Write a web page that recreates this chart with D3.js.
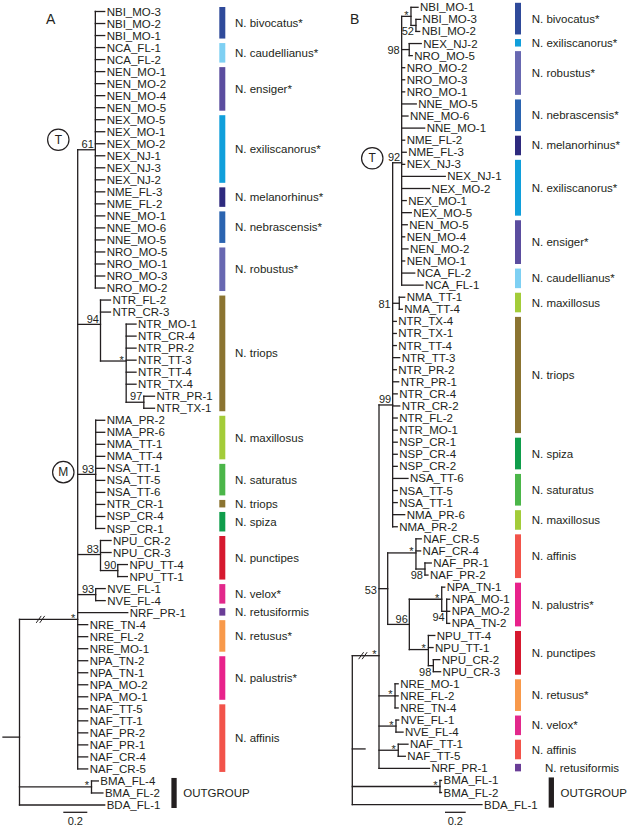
<!DOCTYPE html>
<html><head><meta charset="utf-8">
<script src="https://cdn.jsdelivr.net/npm/d3@7"></script>
<style>
body{margin:0;background:#fff}
svg{display:block}
text{font-family:"Liberation Sans",Arial,Helvetica,sans-serif;fill:#231f20}
</style>
</head><body>
<svg id="chart" width="632" height="829"></svg>
<script>
// ---------------- DATA ----------------
// Panel A (tree, branch lengths in substitutions/site; internal labels = support)
const treeA_T = "(NBI_MO-3:0.078,NBI_MO-2:0.078,NBI_MO-1:0.078,NCA_FL-1:0.078,NCA_FL-2:0.078,NEN_MO-1:0.078,NEN_MO-2:0.078,NEN_MO-4:0.078,NEN_MO-5:0.078,NEX_MO-5:0.078,NEX_MO-1:0.078,NEX_MO-2:0.078,NEX_NJ-1:0.078,NEX_NJ-3:0.078,NEX_NJ-2:0.078,NME_FL-3:0.078,NME_FL-2:0.078,NNE_MO-1:0.078,NNE_MO-6:0.078,NNE_MO-5:0.078,NRO_MO-5:0.078,NRO_MO-1:0.078,NRO_MO-3:0.078,NRO_MO-2:0.078)61";
const treeA_NTR = "(NTR_FL-2:0.083,NTR_CR-3:0.083,(NTR_MO-1:0.082,NTR_CR-4:0.082,NTR_PR-2:0.082,NTR_TT-3:0.082,NTR_TT-4:0.082,NTR_TX-4:0.082,(NTR_PR-1:0.089,NTR_TX-1:0.089)97:0.147)*:0.214)94";
const treeA_M = "(NMA_PR-2:0.075,NMA_PR-6:0.075,NMA_TT-1:0.075,NMA_TT-4:0.075,NSA_TT-1:0.075,NSA_TT-5:0.075,NSA_TT-6:0.075,NTR_CR-1:0.075,NSP_CR-4:0.075,NSP_CR-1:0.075)93";
const treeA_NPU = "(NPU_CR-2:0.088,NPU_CR-3:0.088,(NPU_TT-4:0.08,NPU_TT-1:0.08)90:0.144)83";
const treeA_NVE = "(NVE_FL-1:0.079,NVE_FL-4:0.079)93";
const treeA_rest = "NRF_PR-1:0.417,NRE_TN-4:0.083,NRE_FL-2:0.083,NRE_MO-1:0.083,NPA_TN-2:0.083,NPA_TN-1:0.083,NPA_MO-2:0.083,NPA_MO-1:0.083,NAF_TT-5:0.083,NAF_TT-1:0.083,NAF_PR-2:0.083,NAF_PR-1:0.083,NAF_CR-4:0.083,NAF_CR-5:0.083";
const treeA = `((${treeA_T}:0.147,${treeA_NTR}:0.19,${treeA_M}:0.15,${treeA_NPU}:0.19,${treeA_NVE}:0.15,${treeA_rest})*:0.485,(BMA_FL-4:0.057,BMA_FL-2:0.095)*:0.6,BDA_FL-1:0.71);`;

const groupsA = ["N. bivocatus*","N. caudellianus*","N. ensiger*","N. exiliscanorus*","N. melanorhinus*","N. nebrascensis*","N. robustus*","N. triops","N. maxillosus","N. saturatus","N. triops","N. spiza","N. punctipes","N. velox*","N. retusiformis","N. retusus*","N. palustris*","N. affinis","OUTGROUP"];
const groupSizesA = [3,2,4,6,2,3,4,10,4,3,1,2,4,2,1,3,4,6,3];

// Panel B
const treeB_T = "((NBI_MO-1:0.068,(NBI_MO-3:0.045,NBI_MO-2:0.036)52:0.048)*:0.09,(NEX_NJ-2:0.116,NRO_MO-5:0.029)98:0.073,NRO_MO-2:0.029,NRO_MO-3:0.029,NRO_MO-1:0.029,NNE_MO-5:0.141,NNE_MO-6:0.061,NNE_MO-1:0.222,NME_FL-2:0.029,NME_FL-3:0.044,NEX_NJ-3:0.029,NEX_NJ-1:0.421,NEX_MO-2:0.27,NEX_MO-1:0.044,NEX_MO-5:0.093,NEN_MO-5:0.054,NEN_MO-4:0.029,NEN_MO-2:0.061,NEN_MO-1:0.029,NCA_FL-2:0.126,NCA_FL-1:0.206)92";
const treeB_99 = `(${treeB_T}:0.087,(NMA_TT-1:0.052,NMA_TT-4:0.029)81:0.064,NTR_TX-4:0.035,NTR_TX-1:0.035,NTR_TT-4:0.035,NTR_TT-3:0.068,NTR_PR-2:0.035,NTR_PR-1:0.058,NTR_CR-4:0.044,NTR_CR-2:0.068,NTR_FL-2:0.044,NTR_MO-1:0.044,NSP_CR-1:0.044,NSP_CR-4:0.044,NSP_CR-2:0.044,NSA_TT-6:0.148,NSA_TT-5:0.044,NSA_TT-1:0.044,NMA_PR-6:0.116,NMA_PR-2:0.044)99`;
const treeB_53 = "((NAF_CR-5:0.051,NAF_CR-4:0.045,(NAF_PR-1:0.061,NAF_PR-2:0.029)98:0.087)*:0.273,((NPA_TN-1:0.029,(NPA_MO-1:0.029,NPA_MO-2:0.029,NPA_TN-2:0.029)94:0.048)*:0.313,(NPU_TT-4:0.062,NPU_TT-1:0.045,(NPU_CR-2:0.062,NPU_CR-3:0.07)98:0.048)*:0.184)96:0.209)53";
const treeB_rest = "(NRE_MO-1:0.03,NRE_FL-2:0.03,NRE_TN-4:0.03)*:0.155,(NVE_FL-1:0.026,NVE_FL-4:0.068)*:0.164,(NAF_TT-1:0.094,NAF_TT-5:0.068)*:0.186,NRF_PR-1:0.488";
const treeB = `((${treeB_99}:0.132,${treeB_53}:0.084,${treeB_rest})*:0.258,(BMA_FL-1:0.015,BMA_FL-2:0.015)*:0.847,BDA_FL-1:1.253);`;

const groupsB = ["N. bivocatus*","N. exiliscanorus*","N. robustus*","N. nebrascensis*","N. melanorhinus*","N. exiliscanorus*","N. ensiger*","N. caudellianus*","N. maxillosus","N. triops","N. spiza","N. saturatus","N. maxillosus","N. affinis","N. palustris*","N. punctipes","N. retusus*","N. velox*","N. affinis","N. retusiformis","OUTGROUP"];
const groupSizesB = [3,1,4,3,2,5,4,2,2,10,3,3,2,4,4,4,3,2,2,1,3];

const scaleBarValue = 0.2;
const scaleBarLabel = "0.2";

// ---------------- STYLE ----------------
const speciesColor = {
  "N. bivocatus*":"#2f4a9a","N. caudellianus*":"#7ed0f3","N. ensiger*":"#5b4d9f",
  "N. exiliscanorus*":"#109fdb","N. melanorhinus*":"#2e2a7e","N. nebrascensis*":"#2b64b0",
  "N. robustus*":"#6868b1","N. triops":"#8b7431","N. maxillosus":"#a3cc39",
  "N. saturatus":"#4bb649","N. spiza":"#0f9d4b","N. punctipes":"#d6192f",
  "N. velox*":"#e2288b","N. retusiformis":"#6a3d97","N. retusus*":"#f8994a",
  "N. palustris*":"#e8228b","N. affinis":"#f2534a","OUTGROUP":"#231f20"
};
const INK = "#231f20";

function parseNewick(s){
  const ancestors=[]; let tree={};
  const tokens=s.split(/\s*(;|\(|\)|,|:)\s*/);
  for(let i=0;i<tokens.length;i++){
    const t=tokens[i];
    if(t==='('){const sub={};tree.children=[sub];ancestors.push(tree);tree=sub;}
    else if(t===','){const sub={};ancestors[ancestors.length-1].children.push(sub);tree=sub;}
    else if(t===')'){tree=ancestors.pop();}
    else if(t===':'||t===';'){}
    else{const p=tokens[i-1];
      if(p===')'||p==='('||p===',') tree.name=t;
      else if(p===':') tree.length=parseFloat(t);}
  }
  return tree;
}

const svg=d3.select("#chart");
svg.append("rect").attr("width",632).attr("height",829).attr("fill","#fff");

function drawPanel(cfg){
  const root=d3.hierarchy(parseNewick(cfg.newick));
  d3.cluster().nodeSize([1,1]).separation(()=>1)(root);
  const leaves=root.leaves();
  const ys=d3.scaleLinear().domain([leaves[0].x,leaves[leaves.length-1].x]).range([cfg.yFirst,cfg.yLast]);
  const xs=d3.scaleLinear().domain([0,1]).range([cfg.rootX,cfg.rootX+cfg.pxPerUnit]);
  root.each(n=>{n.dist=n.parent?n.parent.dist+(n.data.length||0):0;});
  root.each(n=>{n.px=xs(n.dist);n.py=ys(n.x);});
  const g=svg.append("g");

  // branches
  const segs=[];
  root.descendants().forEach(n=>{
    if(n.parent) segs.push([n.parent.px,n.py,n.px,n.py]);
    if(n.children) segs.push([n.px,n.children[0].py,n.px,n.children[n.children.length-1].py]);
  });
  // root stub
  segs.push([root.px,root.py,xs(cfg.rootStub),root.py]);
  g.selectAll("line.br").data(segs).join("line").attr("class","br")
    .attr("x1",d=>d[0]).attr("y1",d=>d[1]).attr("x2",d=>d[2]).attr("y2",d=>d[3])
    .attr("stroke",INK).attr("stroke-width",1.3).attr("stroke-linecap","square");

  // broken-branch marks on ingroup stem
  const ing=root.children[0];
  const mx=root.px+(ing.px-root.px)*cfg.breakFrac;
  [0,3.5].forEach(o=>{
    g.append("line").attr("x1",mx+o-2.5).attr("y1",ing.py+3.5).attr("x2",mx+o+2.5).attr("y2",ing.py-3.5)
      .attr("stroke",INK).attr("stroke-width",1);
  });

  // leaf labels
  g.selectAll("text.leaf").data(leaves).join("text").attr("class","leaf")
    .attr("x",d=>d.px+2).attr("y",d=>d.py).attr("dy","0.35em")
    .attr("font-size",11.5).text(d=>d.data.name);

  // support labels
  const internals=root.descendants().filter(n=>n.children&&n.data.name);
  internals.forEach(n=>{
    const key=n.leaves()[0].data.name+"|"+n.leaves().slice(-1)[0].data.name;
    const mode=(cfg.placement&&cfg.placement[key])||"above";
    const lab=n.data.name;
    const t=g.append("text").attr("font-size",11).attr("text-anchor","end").text(lab);
    if(mode==="left"){ t.attr("x",n.parent.px-2).attr("y",n.py+1).attr("dy","0.35em"); }
    else if(mode==="below"){ t.attr("x",n.px-2).attr("y",n.py+6).attr("dy","0.35em"); }
    else if(lab==="*"){ t.attr("x",n.px-2.5).attr("y",n.py+2.5); }
    else { t.attr("x",n.px-1.5).attr("y",n.py-1.8); }
  });

  // clade circles
  (cfg.circles||[]).forEach(c=>{
    const n=root.descendants().find(d=>d.children&&d.leaves()[0].data.name===c.first&&d.leaves().length===c.count);
    const cx=n.parent.px+c.dx, cy=n.py+c.dy;
    g.append("circle").attr("cx",cx).attr("cy",cy).attr("r",10.7).attr("fill","#fff").attr("stroke",INK).attr("stroke-width",1.2);
    g.append("text").attr("x",cx).attr("y",cy).attr("dy","0.35em").attr("text-anchor","middle").attr("font-size",12).text(c.label);
  });

  // species bars
  let idx=0;
  cfg.groups.forEach((name,i)=>{
    const size=cfg.sizes[i];
    const first=leaves[idx], last=leaves[idx+size-1];
    idx+=size;
    if(name==="OUTGROUP"){
      const lbl=g.selectAll("text.leaf").filter(d=>d===last).node();
      const bx=last.px+2+lbl.getComputedTextLength()+11;
      g.append("rect").attr("x",bx).attr("y",first.py-3).attr("width",5.3).attr("height",last.py-first.py+6).attr("fill",speciesColor[name]);
      g.append("text").attr("x",bx+5.3+6.5).attr("y",(first.py+last.py)/2).attr("dy","0.35em").attr("font-size",11.5).text(name);
      return;
    }
    const top=first.py-4.5, bot=last.py+3;
    g.append("rect").attr("x",cfg.barX).attr("y",top).attr("width",6).attr("height",bot-top).attr("fill",speciesColor[name]);
    const shift=(cfg.labelShift&&cfg.labelShift[name])||0;
    g.append("text").attr("x",cfg.labelX+shift).attr("y",(top+bot)/2).attr("dy","0.35em").attr("font-size",11.5).text(name);
  });

  // scale bar
  const sb0=cfg.scaleX, sb1=cfg.scaleX+(xs(scaleBarValue)-xs(0));
  g.append("line").attr("x1",sb0).attr("x2",sb1).attr("y1",812.3).attr("y2",812.3).attr("stroke",INK).attr("stroke-width",1.3);
  g.append("text").attr("x",(sb0+sb1)/2).attr("y",825).attr("text-anchor","middle").attr("font-size",11).text(scaleBarLabel);

  // panel letter
  g.append("text").attr("x",cfg.letterX).attr("y",24).attr("font-size",14).text(cfg.letter);
}

drawPanel({
  newick:treeA, rootX:19.5, pxPerUnit:120, yFirst:11.5, yLast:805,
  rootStub:-0.1375, breakFrac:0.33,
  groups:groupsA, sizes:groupSizesA, barX:219.3, labelX:235,
  scaleX:63.3, letter:"A", letterX:46,
  circles:[{first:"NBI_MO-3",count:24,label:"T",dx:-19.4,dy:-10},{first:"NMA_PR-2",count:10,label:"M",dx:-14.4,dy:-2.2}]
});
drawPanel({
  newick:treeB, rootX:352.3, pxPerUnit:103.5, yFirst:7.3, yLast:804.6,
  rootStub:0.123, breakFrac:0.33,
  groups:groupsB, sizes:groupSizesB, barX:515, labelX:531.7,
  labelShift:{"N. retusiformis":13.3},
  scaleX:445, letter:"B", letterX:350,
  placement:{"NEX_NJ-2|NRO_MO-5":"left","NMA_TT-1|NMA_TT-4":"left","NAF_CR-5|NPU_CR-3":"left",
             "NBI_MO-3|NBI_MO-2":"below","NAF_PR-1|NAF_PR-2":"below","NPA_MO-1|NPA_TN-2":"below","NPU_CR-2|NPU_CR-3":"below"},
  circles:[{first:"NBI_MO-1",count:24,label:"T",dx:-20.4,dy:-4.5}]
});
</script>
</body></html>
